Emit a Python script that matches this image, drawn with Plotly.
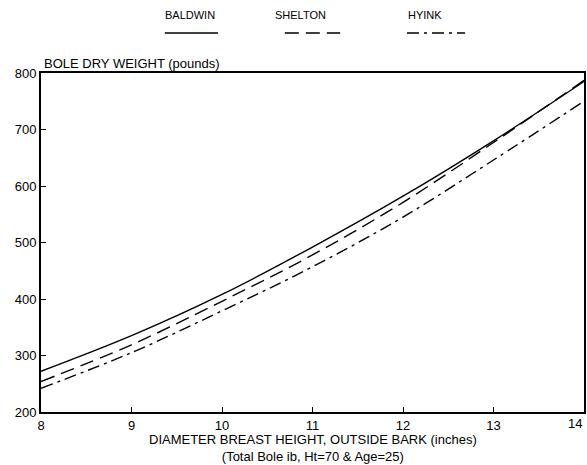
import plotly.graph_objects as go

dbh = [8, 9, 10, 11, 12, 13, 14]
baldwin = [272, 335, 408, 492, 582, 680, 785]
shelton = [254, 319, 396, 478, 571, 677, 787]
hyink = [242, 305, 379, 457, 545, 646, 750]

series = [
    ("BALDWIN", baldwin, "solid"),
    ("SHELTON", shelton, "14px,7px"),
    ("HYINK", hyink, "12px,5px,3px,5px"),
]

xticks = [8, 9, 10, 11, 12, 13, 14]
xticktext = ["8", "9", "10", "11", "12", "13", ""]
yticks = [200, 300, 400, 500, 600, 700, 800]

FONT = "Liberation Sans, Arial, sans-serif"

fig = go.Figure()
for name, vals, dash in series:
    fig.add_trace(go.Scatter(
        x=dbh, y=vals, mode="lines", name=name,
        line=dict(color="black", width=1.4, dash=dash, shape="spline", smoothing=1.0),
        showlegend=False,
    ))

# custom legend (labels above line samples)
leg = [(0.274, 0.228, 0.326), (0.477, 0.449, 0.551), (0.707, 0.674, 0.781)]
for (name, vals, dash), (lx, x0, x1) in zip(series, leg):
    fig.add_annotation(x=lx, y=1.171, xref="paper", yref="paper", text=name,
                       showarrow=False, font=dict(family=FONT, size=11, color="black"),
                       xanchor="center", yanchor="middle")
    fig.add_shape(type="line", xref="paper", yref="paper",
                  x0=x0, x1=x1, y0=1.118, y1=1.118,
                  line=dict(color="black", width=1.4, dash=dash))

# last x tick label kept inside the page edge
fig.add_annotation(x=xticks[-1], y=0, xref="x", yref="paper", text=str(xticks[-1]),
                   showarrow=False, xanchor="right", yanchor="top", yshift=-2,
                   font=dict(family=FONT, size=13, color="black"))

fig.add_annotation(x=0.002, y=1.0, xref="paper", yref="paper",
                   text="BOLE DRY WEIGHT (pounds)", showarrow=False,
                   xanchor="left", yanchor="bottom",
                   font=dict(family=FONT, size=13, color="black"))
fig.add_annotation(x=0.5, y=-0.052, xref="paper", yref="paper",
                   text="DIAMETER BREAST HEIGHT, OUTSIDE BARK (inches)<br>(Total Bole ib, Ht=70 & Age=25)",
                   showarrow=False, xanchor="center", yanchor="top",
                   font=dict(family=FONT, size=13, color="black"))

fig.update_xaxes(range=[8, 14], tickvals=xticks, ticktext=xticktext, ticks="inside", ticklen=5,
                 tickcolor="black", showline=True, linecolor="black", linewidth=2,
                 mirror=True, showgrid=False, zeroline=False, automargin=False,
                 tickfont=dict(family=FONT, size=13, color="black"))
fig.update_yaxes(range=[200, 800], tickvals=yticks, ticks="inside", ticklen=5,
                 tickcolor="black", showline=True, linecolor="black", linewidth=2,
                 mirror=True, showgrid=False, zeroline=False, automargin=False,
                 tickfont=dict(family=FONT, size=13, color="black"))

fig.update_layout(
    width=587, height=465,
    margin=dict(l=41, r=3, t=73, b=53),
    paper_bgcolor="white", plot_bgcolor="white",
    font=dict(family=FONT, color="black"),
)

fig.write_html("out.html", config={"displayModeBar": False},
               post_script="document.body.style.margin='0';document.body.style.overflow='hidden';")
